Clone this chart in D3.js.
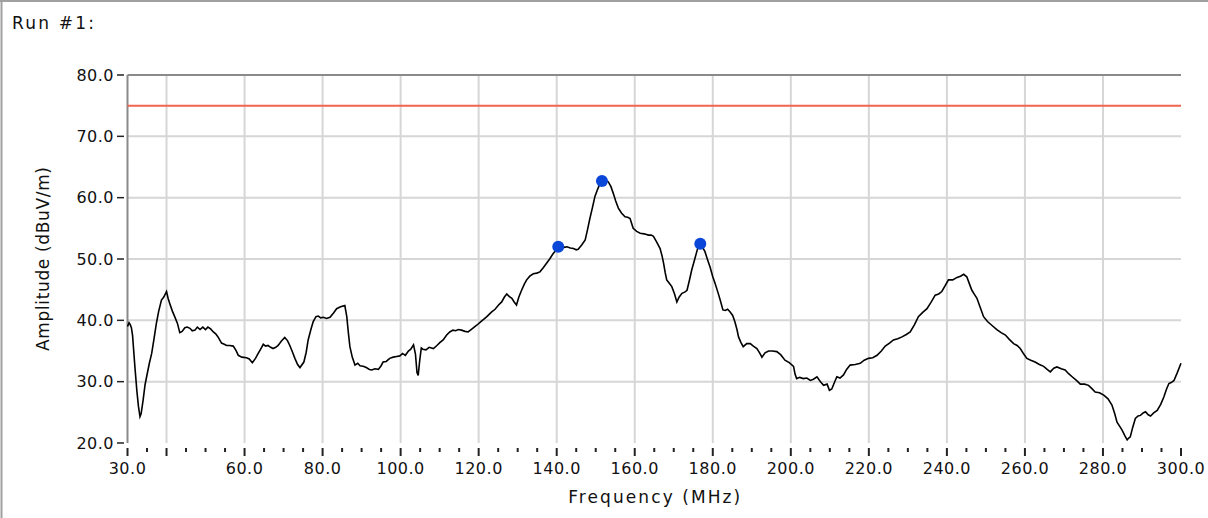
<!DOCTYPE html>
<html>
<head>
<meta charset="utf-8">
<script src="https://cdn.jsdelivr.net/npm/d3@7"></script>
<style>
  html, body { margin: 0; padding: 0; background: #fff; }
  svg { display: block; }
  text { font-family: "DejaVu Sans", Verdana, sans-serif; fill: #111; }
</style>
</head>
<body>
<svg id="chart" width="1208" height="518"></svg>
<script>
// ---- data ----
const frequencies = [
30.0,30.4,30.7,31.0,31.3,31.9,32.4,32.8,33.2,33.5,34.0,34.5,34.9,35.6,36.2,36.8,37.4,38.0,38.7,39.3,
40.0,40.4,40.8,41.5,42.1,42.8,43.4,44.0,44.7,45.3,46.0,46.6,47.3,47.9,48.6,49.3,50.0,50.6,51.3,52.0,
52.6,53.2,54.1,54.8,55.4,56.2,57.1,57.8,58.4,59.3,60.5,61.2,62.0,62.8,63.5,64.2,64.8,65.4,66.0,66.7,
67.3,68.0,68.6,69.4,70.3,71.0,71.6,72.3,72.9,73.6,74.2,75.2,75.8,76.3,77.0,77.6,78.3,78.9,79.5,80.2,
81.0,81.9,82.8,83.6,84.6,85.7,86.2,86.6,87.0,87.6,88.3,89.0,89.6,90.4,91.2,92.0,92.6,93.4,94.3,95.0,
95.5,96.3,97.2,98.1,99.0,99.8,100.5,101.2,102.0,102.6,103.3,103.8,104.2,104.5,104.9,105.3,105.7,106.5,107.3,108.4,
109.3,110.1,110.9,111.8,112.6,113.4,114.1,114.8,115.6,116.5,117.3,118.3,119.5,120.8,122.1,123.2,124.2,125.1,125.9,126.6,
127.2,127.8,128.5,129.1,129.7,130.3,131.0,131.7,132.3,133.1,134.0,134.9,135.7,136.6,137.4,138.2,139.1,139.8,140.4,141.2,
142.0,142.6,143.5,144.3,145.0,145.5,146.4,147.3,147.9,148.5,149.2,149.8,150.5,151.1,151.6,152.2,152.7,153.2,153.9,154.5,
155.1,155.8,156.6,157.5,158.2,158.8,159.6,160.5,161.4,162.4,163.5,164.2,164.8,165.6,166.5,167.0,167.4,167.8,168.2,168.9,
169.5,170.2,170.8,171.4,172.1,172.8,173.4,174.0,174.6,175.3,175.9,176.4,176.8,177.4,178.0,178.6,179.3,180.0,180.6,181.3,
181.9,182.6,183.2,183.8,184.4,185.1,185.7,186.2,186.6,187.2,187.8,188.7,189.6,190.4,191.3,192.0,192.6,193.4,194.3,195.3,
196.4,197.4,198.5,199.6,200.7,201.1,201.5,202.3,203.2,204.1,205.0,205.8,206.7,207.6,208.4,209.3,209.9,210.5,211.2,211.8,
212.6,213.5,214.3,215.2,216.5,217.8,218.8,219.9,221.0,222.1,223.2,224.2,225.3,226.3,227.4,228.5,229.6,230.6,231.7,232.7,
233.8,234.9,236.0,237.0,237.9,238.7,239.6,240.4,241.5,242.6,243.5,244.3,245.1,245.8,246.4,247.1,247.7,248.6,249.4,250.4,
251.5,252.8,253.9,255.0,256.0,257.1,258.0,258.8,259.7,260.5,261.5,262.6,263.7,264.8,265.7,266.5,267.4,268.2,269.3,270.3,
271.2,272.1,273.2,274.2,275.3,276.3,277.1,278.0,279.1,280.2,281.3,282.3,283.0,283.6,284.3,284.9,285.6,286.2,286.6,287.0,
287.6,288.3,289.0,289.6,290.3,290.9,291.6,292.2,293.0,293.9,294.8,295.6,296.3,296.9,297.6,298.2,299.0,300.0
];
const amplitudes = [
39.0,39.6,39.3,38.8,37.5,32.4,28.5,26.0,24.3,24.8,27.0,29.5,30.8,33.0,34.6,37.0,39.5,41.5,43.3,43.8,
44.7,43.6,42.8,41.5,40.6,39.5,38.0,38.2,38.8,38.9,38.7,38.3,38.4,38.9,38.5,38.9,38.5,38.9,38.6,38.1,
37.8,37.3,36.3,36.1,35.9,35.9,35.8,35.1,34.3,34.0,33.9,33.7,33.1,33.8,34.6,35.4,36.1,35.8,35.9,35.6,
35.4,35.6,35.9,36.6,37.2,36.7,35.9,34.8,33.8,32.8,32.3,33.2,34.8,36.8,38.5,39.8,40.6,40.7,40.4,40.5,
40.3,40.5,41.2,41.9,42.2,42.4,40.6,38.0,35.7,34.0,32.7,33.0,32.6,32.5,32.3,32.0,31.9,32.1,32.0,32.6,
33.2,33.3,33.8,34.0,34.1,34.2,34.6,34.3,35.0,35.3,36.0,34.5,31.5,31.0,33.5,35.5,35.3,35.2,35.6,35.4,
35.9,36.4,36.8,37.6,38.1,38.4,38.3,38.5,38.4,38.2,38.1,38.6,39.2,39.9,40.6,41.3,41.8,42.5,43.0,43.8,
44.3,43.9,43.6,43.0,42.5,43.8,44.9,45.9,46.6,47.2,47.6,47.7,47.9,48.6,49.3,50.0,50.9,51.4,52.0,52.3,
51.9,52.0,51.8,51.7,51.5,51.6,52.3,53.1,54.8,56.6,58.5,60.2,61.4,62.3,62.7,62.5,62.8,62.6,61.8,60.7,
59.5,58.3,57.5,56.9,56.8,56.6,55.0,54.5,54.2,54.1,53.9,53.9,53.7,52.8,51.7,50.5,49.3,47.8,46.6,46.0,
45.5,44.3,43.0,43.8,44.4,44.6,44.9,46.5,48.2,49.8,51.2,52.3,52.5,51.9,51.2,50.0,48.7,47.1,46.0,44.6,
43.3,41.7,41.6,41.8,41.4,40.8,39.7,38.5,37.3,36.4,35.7,36.2,36.2,35.8,35.4,34.7,34.0,34.7,35.0,35.0,
34.9,34.4,33.5,33.1,32.5,31.2,30.5,30.7,30.5,30.6,30.2,30.4,30.8,30.0,29.4,29.6,28.6,28.8,29.9,30.8,
30.6,31.1,32.0,32.7,32.8,33.0,33.5,33.8,33.9,34.3,35.0,35.8,36.3,36.8,37.0,37.3,37.7,38.1,39.3,40.6,
41.3,41.9,43.0,44.1,44.3,44.7,45.7,46.6,46.6,47.0,47.2,47.5,47.1,45.9,44.9,44.2,43.6,42.0,40.6,39.8,
39.2,38.5,38.0,37.6,36.9,36.2,35.9,35.4,34.5,33.8,33.5,33.2,32.8,32.5,32.0,31.6,32.2,32.4,32.1,31.9,
31.3,30.8,30.2,29.6,29.6,29.4,28.9,28.3,28.2,27.8,27.2,26.2,24.8,23.4,22.7,22.1,21.2,20.5,20.8,21.0,
22.5,24.0,24.4,24.5,24.9,25.1,24.6,24.4,24.9,25.3,26.3,27.5,28.8,29.7,29.9,30.2,31.4,33.0
];
const markerFreqs = [140.4, 151.6, 176.8];
const markerAmps  = [52.0, 62.7, 52.5];
const limitLevel = 75;
const yTicks = [20, 30, 40, 50, 60, 70, 80];
const xLabelTicks = [30, 60, 80, 100, 120, 140, 160, 180, 200, 220, 240, 260, 280, 300];
const xGridTicks = [40, 60, 80, 100, 120, 140, 160, 180, 200, 220, 240, 260, 280];
const xMajorTicks = [30, 40, 60, 80, 100, 120, 140, 160, 180, 200, 220, 240, 260, 280, 300];
const xMinorTicks = d3.range(35, 300, 5).filter(v => !xMajorTicks.includes(v));
const titleText = "Run #1:";
const xTitle = "Frequency (MHz)";
const yTitle = "Amplitude (dBuV/m)";

// ---- layout ----
const svg = d3.select("#chart");
const L = 127.5, R = 1181, T = 75, B = 443;
const x = d3.scaleLinear().domain([30, 300]).range([L, R]);
const y = d3.scaleLinear().domain([20, 80]).range([B, T]);

// outer window border
svg.append("line").attr("x1", 1.5).attr("x2", 1.5).attr("y1", 0).attr("y2", 518)
  .attr("stroke", "#a0a0a0").attr("stroke-width", 2);
svg.append("line").attr("x1", 0).attr("x2", 1208).attr("y1", 1).attr("y2", 1)
  .attr("stroke", "#a0a0a0").attr("stroke-width", 2);

svg.append("text").attr("x", 12).attr("y", 29).attr("font-size", 17)
  .attr("textLength", 82).attr("lengthAdjust", "spacing").text(titleText);

// grid
const grid = svg.append("g").attr("stroke", "#d6d6d6").attr("stroke-width", 2);
grid.selectAll("line.h").data(yTicks.filter(v => v > 20 && v < 80)).join("line")
  .attr("x1", L).attr("x2", R).attr("y1", d => y(d)).attr("y2", d => y(d));
grid.selectAll("line.v").data(xGridTicks).join("line")
  .attr("x1", d => x(d)).attr("x2", d => x(d)).attr("y1", T).attr("y2", B);

// frame (top + left)
svg.append("line").attr("x1", L).attr("x2", R).attr("y1", T).attr("y2", T)
  .attr("stroke", "#8a8a8a").attr("stroke-width", 2);
svg.append("line").attr("x1", L).attr("x2", L).attr("y1", T).attr("y2", B)
  .attr("stroke", "#8a8a8a").attr("stroke-width", 2);

// y ticks + labels
const yAx = svg.append("g");
yAx.selectAll("line").data(yTicks).join("line")
  .attr("x1", 117).attr("x2", 124).attr("y1", d => y(d)).attr("y2", d => y(d))
  .attr("stroke", "#222").attr("stroke-width", 1.5);
yAx.selectAll("text").data(yTicks).join("text")
  .attr("x", 114).attr("y", d => y(d)).attr("dy", "0.36em")
  .attr("text-anchor", "end").attr("font-size", 16).attr("letter-spacing", 0.5)
  .text(d => d.toFixed(1));

// x ticks + labels
const xAx = svg.append("g").attr("stroke", "#222").attr("stroke-width", 2);
xAx.selectAll("line.maj").data(xMajorTicks).join("line")
  .attr("x1", d => x(d)).attr("x2", d => x(d)).attr("y1", 448).attr("y2", 456);
xAx.selectAll("line.min").data(xMinorTicks).join("line")
  .attr("x1", d => x(d)).attr("x2", d => x(d)).attr("y1", 448).attr("y2", 452);
svg.append("g").selectAll("text").data(xLabelTicks).join("text")
  .attr("x", d => x(d)).attr("y", 474).attr("text-anchor", "middle").attr("font-size", 16)
  .attr("letter-spacing", 0.5)
  .text(d => d.toFixed(1));

// axis titles
svg.append("text").attr("x", (L + R) / 2 - 86).attr("y", 503)
  .attr("font-size", 17).attr("textLength", 172).attr("lengthAdjust", "spacing").text(xTitle);
svg.append("text").attr("transform", `translate(49,${(T + B) / 2 + 92}) rotate(-90)`)
  .attr("font-size", 17).attr("textLength", 184).attr("lengthAdjust", "spacing").text(yTitle);

// limit line
svg.append("line").attr("x1", L).attr("x2", R).attr("y1", y(limitLevel)).attr("y2", y(limitLevel))
  .attr("stroke", "#f26350").attr("stroke-width", 2);

// trace
const pts = frequencies.map((f, i) => [f, amplitudes[i]]);
svg.append("path").datum(pts)
  .attr("fill", "none").attr("stroke", "#000").attr("stroke-width", 1.6)
  .attr("d", d3.line().x(d => x(d[0])).y(d => y(d[1])));

// markers
svg.append("g").selectAll("circle").data(markerFreqs.map((f, i) => [f, markerAmps[i]])).join("circle")
  .attr("cx", d => x(d[0])).attr("cy", d => y(d[1])).attr("r", 6)
  .attr("fill", "#0a46d8");
</script>
</body>
</html>
